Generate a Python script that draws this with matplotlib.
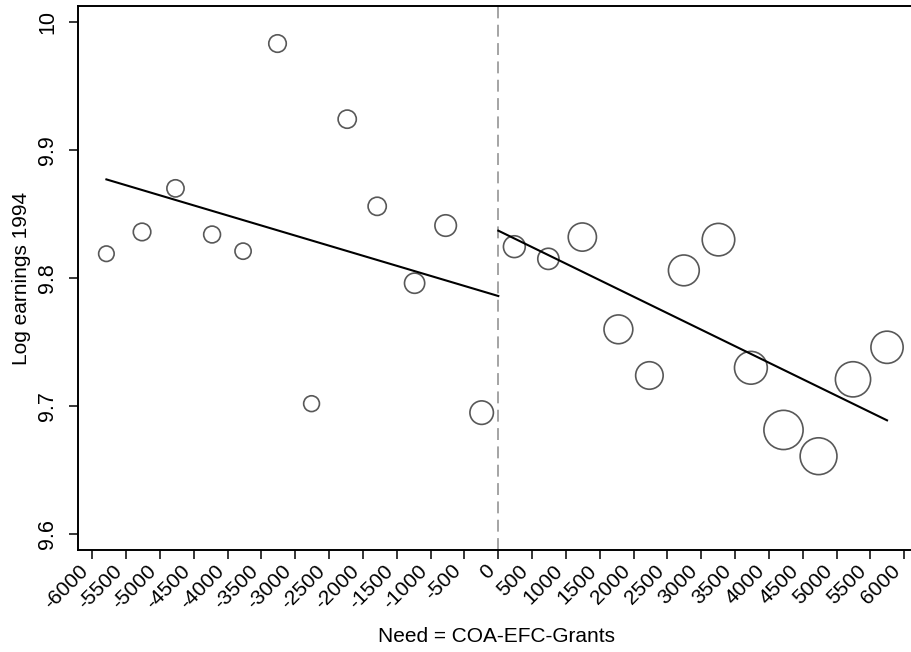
import numpy as np
import matplotlib.pyplot as plt

plt.rcParams['font.family'] = ['Liberation Sans', 'DejaVu Sans']

# Binned means of log earnings by need, below and above the cutoff
need_left = [-5792, -5265, -4771, -4230, -3772, -3263, -2760, -2233, -1790, -1237, -778, -246]
earn_left = [9.819, 9.836, 9.870, 9.834, 9.821, 9.983, 9.702, 9.924, 9.856, 9.796, 9.841, 9.695]
nobs_left = [289, 361, 350, 335, 313, 361, 299, 388, 388, 471, 529, 625]

need_right = [237, 740, 1242, 1775, 2233, 2742, 3254, 3733, 4215, 4733, 5242, 5745]
earn_right = [9.8245, 9.815, 9.832, 9.760, 9.724, 9.806, 9.830, 9.730, 9.6815, 9.661, 9.721, 9.746]
nobs_right = [543, 515, 882, 918, 841, 1043, 1156, 1176, 1656, 1467, 1347, 1136]

# Linear fits on each side (endpoints)
fit_left_x = [-5792, 0]
fit_left_y = [9.877, 9.786]
fit_right_x = [0, 5745]
fit_right_y = [9.837, 9.689]

xticks = np.arange(-6000, 6001, 500)
yticks = [9.6, 9.7, 9.8, 9.9, 10]

dpi = 100
edge_px = 1.5

fig = plt.figure(figsize=(9.12, 6.52), dpi=dpi)
ax = fig.add_axes([0.0852, 0.1564, 0.9148, 0.8344])

# marker area proportional to number of observations in the bin
def msize(n):
    return ((np.sqrt(np.array(n)) - edge_px) * 72 / dpi) ** 2

ax.scatter(need_left, earn_left, s=msize(nobs_left), facecolors='none',
           edgecolors='#585858', linewidths=1.2, zorder=3)
ax.scatter(need_right, earn_right, s=msize(nobs_right), facecolors='none',
           edgecolors='#585858', linewidths=1.2, zorder=3)

ax.plot(fit_left_x, fit_left_y, color='black', lw=1.5, zorder=4)
ax.plot(fit_right_x, fit_right_y, color='black', lw=1.5, zorder=4)

# cutoff at zero need
ax.axvline(0, color='#8c8c8c', lw=1.1, linestyle=(0, (7.8, 4.2)), zorder=2)

ax.set_xlim(-6216, 6114)
ax.set_ylim(9.5878, 10.0123)

ax.set_xticks(xticks)
ax.set_xticklabels([str(v) for v in xticks], rotation=45, ha='right', fontsize=15)
ax.set_yticks(yticks)
ax.set_yticklabels(['9.6', '9.7', '9.8', '9.9', '10'], rotation=90, va='center', fontsize=15.5)

ax.tick_params(axis='x', length=6.5, width=1.1, pad=1.5)
ax.tick_params(axis='y', length=6.5, width=1.1, pad=7.5)

ax.spines['right'].set_visible(False)
for side in ['left', 'bottom', 'top']:
    ax.spines[side].set_linewidth(1.4)

fig.text(27 / 912, 1 - 278 / 652, 'Log earnings 1994', rotation=90, fontsize=15,
         ha='center', va='baseline', rotation_mode='anchor')
fig.text(497 / 912, 1 - 642 / 652, 'Need = COA-EFC-Grants', fontsize=15,
         ha='center', va='baseline')

fig.savefig('out.png', dpi=dpi)
